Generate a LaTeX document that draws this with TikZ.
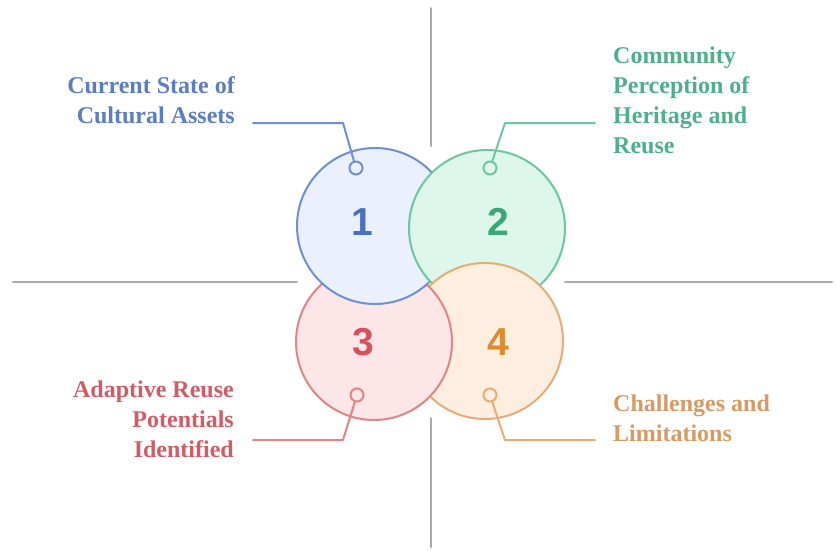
\documentclass[tikz,border=0pt]{standalone}
\usepackage{fontspec}
\setmainfont{Liberation Serif}
\newfontfamily\numfont{Liberation Sans}
\definecolor{axisgray}{HTML}{AAAAAA}
\definecolor{c1s}{HTML}{6E8FD4}\definecolor{c1f}{HTML}{EAF0FD}\definecolor{c1t}{HTML}{5A7DC6}\definecolor{c1n}{HTML}{4A6FC0}
\definecolor{c2s}{HTML}{6CC79E}\definecolor{c2f}{HTML}{DDF7EA}\definecolor{c2t}{HTML}{4DB088}\definecolor{c2n}{HTML}{3AA776}
\definecolor{c3s}{HTML}{E08585}\definecolor{c3f}{HTML}{FCE6E7}\definecolor{c3t}{HTML}{D25C66}\definecolor{c3n}{HTML}{D9505A}
\definecolor{c4s}{HTML}{E5AC75}\definecolor{c4f}{HTML}{FDEEDF}\definecolor{c4t}{HTML}{D89A62}\definecolor{c4n}{HTML}{E08A2E}
\begin{document}
\begin{tikzpicture}[x=1pt,y=-1pt,
  axisline/.style={draw=axisgray, line width=2pt, line cap=round},
  ring/.style={circle, minimum size=156pt, inner sep=0pt, line width=2pt},
  numlab/.style={font=\numfont\bfseries\fontsize{39}{39}\selectfont, inner sep=0pt},
  marker/.style={circle, minimum size=13pt, inner sep=0pt, line width=2pt},
  leader/.style={line width=2pt, line cap=round, line join=round},
  lab/.style={font=\bfseries\fontsize{24}{30}\selectfont, inner sep=0pt}]
\fill[white] (0,0) rectangle (836,550);
\useasboundingbox (0,0) rectangle (836,550);
% axes
\coordinate (at1) at (431,8);   \coordinate (at2) at (431,146);
\coordinate (ab1) at (431,418); \coordinate (ab2) at (431,547);
\coordinate (al1) at (13,282);  \coordinate (al2) at (297,282);
\coordinate (ar1) at (565,282); \coordinate (ar2) at (832,282);
\draw[axisline] (at1) -- (at2);
\draw[axisline] (ab1) -- (ab2);
\draw[axisline] (al1) -- (al2);
\draw[axisline] (ar1) -- (ar2);
% circles (order 1,2,4,3 then 1 over 3)
\node[ring, draw=c1s, fill=c1f] (c1) at (375,226) {};
\node[ring, draw=c2s, fill=c2f] (c2) at (487,228) {};
\node[ring, draw=c4s, fill=c4f] (c4) at (485,341) {};
\node[ring, draw=c3s, fill=c3f] (c3) at (374,342) {};
\begin{scope}
  \clip (c3.center) circle (80);
  \fill[c1f] (c1.center) circle (78);
  \draw[c1s, line width=2pt] (c1.center) circle (78);
\end{scope}
% numbers
\node[numlab, text=c1n] (n1) at (362,222) {1};
\node[numlab, text=c2n] (n2) at (498,222) {2};
\node[numlab, text=c3n] (n3) at (363,342) {3};
\node[numlab, text=c4n] (n4) at (498,342) {4};
% markers
\node[marker, draw=c1s, fill=c1f] (m1) at (356,168) {};
\node[marker, draw=c2s, fill=c2f] (m2) at (490,168) {};
\node[marker, draw=c3s, fill=c3f] (m3) at (357,395) {};
\node[marker, draw=c4s, fill=c4f] (m4) at (490,395) {};
% leaders
\coordinate (e1) at (343,123); \coordinate (t1) at (253,123);
\coordinate (e2) at (505,123); \coordinate (t2) at (595,123);
\coordinate (e3) at (343,440); \coordinate (t3) at (253,440);
\coordinate (e4) at (505,440); \coordinate (t4) at (595,440);
\draw[leader, c1s] (m1) -- (e1) -- (t1);
\draw[leader, c2s] (m2) -- (e2) -- (t2);
\draw[leader, c3s] (m3) -- (e3) -- (t3);
\draw[leader, c4s] (m4) -- (e4) -- (t4);
% labels (base = baseline of last line)
\node[lab, text=c1t, anchor=base east, align=right] (l1) at (235,123) {Current State of\\Cultural Assets};
\node[lab, text=c2t, anchor=base west, align=left] (l2) at (613,153) {Community\\Perception of\\Heritage and\\Reuse};
\node[lab, text=c3t, anchor=base east, align=right] (l3) at (234,457) {Adaptive Reuse\\Potentials\\Identified};
\node[lab, text=c4t, anchor=base west, align=left] (l4) at (613,441) {Challenges and\\Limitations};
\end{tikzpicture}
\end{document}
